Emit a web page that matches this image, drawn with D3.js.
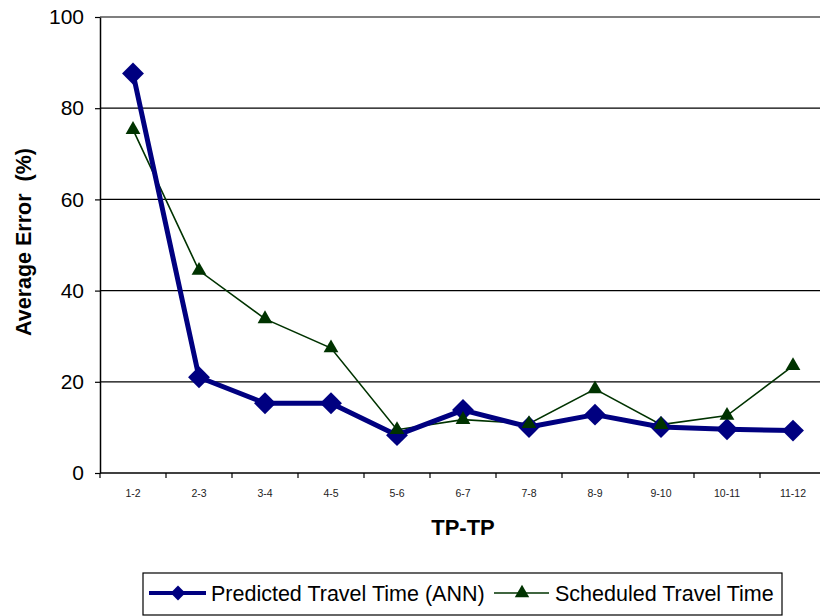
<!DOCTYPE html>
<html>
<head>
<meta charset="utf-8">
<script src="https://cdn.jsdelivr.net/npm/d3@7/dist/d3.min.js"></script>
<style>
  html, body { margin: 0; padding: 0; background: #fff; }
  svg { display: block; font-family: "Liberation Sans", Arial, sans-serif; }
</style>
</head>
<body>
<svg id="chart" width="820" height="616"></svg>
<script>
// Travel-time segments between timing points
const segments = ["1-2", "2-3", "3-4", "4-5", "5-6", "6-7", "7-8", "8-9", "9-10", "10-11", "11-12"];
// Average error (%) per segment
const predictedANN = [87.6, 21.0, 15.3, 15.3, 8.3, 13.8, 10.1, 12.8, 10.1, 9.6, 9.3];
const scheduled    = [75.3, 44.4, 33.8, 27.4, 9.5, 11.7, 10.8, 18.4, 10.6, 12.6, 23.5];
const yTicks = [0, 20, 40, 60, 80, 100];

const svg = d3.select("#chart");
const plotLeft = 100, plotRight = 826, plotTop = 17, plotBottom = 473;

const x = d3.scaleBand().domain(segments).range([plotLeft, plotRight]);
const y = d3.scaleLinear().domain([0, 100]).range([plotBottom, plotTop]);

// Horizontal gridlines
svg.append("g")
  .selectAll("line")
  .data(yTicks.filter(d => d > 0))
  .join("line")
  .attr("x1", plotLeft).attr("x2", plotRight)
  .attr("y1", d => y(d)).attr("y2", d => y(d))
  .attr("stroke", "#000").attr("stroke-width", 1.2);

// Y axis
const yAxis = svg.append("g")
  .attr("transform", `translate(${plotLeft},0)`)
  .call(d3.axisLeft(y).tickValues(yTicks).tickSize(5).tickPadding(11).tickSizeOuter(0));
yAxis.select(".domain").attr("stroke", "#000").attr("stroke-width", 1.5);
yAxis.selectAll(".tick line").attr("stroke", "#000").attr("stroke-width", 1.2);
yAxis.selectAll(".tick text")
  .attr("font-size", 21).attr("fill", "#000")
  .attr("font-family", "Liberation Sans, Arial, sans-serif");

// X axis with ticks on category boundaries
const xAxisG = svg.append("g").attr("transform", `translate(0,${plotBottom})`);
xAxisG.append("line")
  .attr("x1", plotLeft).attr("x2", plotRight)
  .attr("stroke", "#000").attr("stroke-width", 1.5);
xAxisG.selectAll("line.tk")
  .data(segments)
  .join("line").attr("class", "tk")
  .attr("x1", d => x(d)).attr("x2", d => x(d))
  .attr("y1", 0).attr("y2", 5)
  .attr("stroke", "#000").attr("stroke-width", 1.2);
xAxisG.selectAll("text")
  .data(segments)
  .join("text")
  .attr("x", d => x(d) + x.bandwidth() / 2)
  .attr("y", 24)
  .attr("text-anchor", "middle")
  .attr("font-size", 10.5)
  .attr("fill", "#222")
  .text(d => d);

// Axis titles
svg.append("text")
  .attr("x", 463).attr("y", 535)
  .attr("text-anchor", "middle")
  .attr("font-size", 22).attr("font-weight", "bold")
  .text("TP-TP");
svg.append("text")
  .attr("transform", "translate(31,242) rotate(-90)")
  .attr("text-anchor", "middle")
  .attr("font-size", 21.5).attr("font-weight", "bold")
  .style("white-space", "pre")
  .text("Average Error  (%)");

const cx = d => x(d) + x.bandwidth() / 2;
const blue = "#000080", green = "#003300";

const diamond = d3.symbol().type(d3.symbolSquare).size(240);
const triangle = d3.symbol().type(d3.symbolTriangle).size(95);

// Scheduled travel time series
svg.append("path")
  .datum(scheduled)
  .attr("fill", "none").attr("stroke", green).attr("stroke-width", 1.6)
  .attr("d", d3.line().x((d, i) => cx(segments[i])).y(d => y(d)));

// Predicted (ANN) series
svg.append("path")
  .datum(predictedANN)
  .attr("fill", "none").attr("stroke", blue).attr("stroke-width", 5)
  .attr("stroke-linejoin", "round")
  .attr("d", d3.line().x((d, i) => cx(segments[i])).y(d => y(d)));

svg.append("g").selectAll("path")
  .data(predictedANN)
  .join("path")
  .attr("d", diamond)
  .attr("transform", (d, i) => `translate(${cx(segments[i])},${y(d)}) rotate(45)`)
  .attr("fill", blue);

svg.append("g").selectAll("path")
  .data(scheduled)
  .join("path")
  .attr("d", triangle)
  .attr("transform", (d, i) => `translate(${cx(segments[i])},${y(d)})`)
  .attr("fill", green);

// Legend
const lg = svg.append("g");
lg.append("rect")
  .attr("x", 143).attr("y", 573).attr("width", 639).attr("height", 42)
  .attr("fill", "#fff").attr("stroke", "#000").attr("stroke-width", 1.2);
lg.append("line")
  .attr("x1", 149).attr("x2", 206).attr("y1", 593).attr("y2", 593)
  .attr("stroke", blue).attr("stroke-width", 4);
lg.append("path")
  .attr("d", d3.symbol().type(d3.symbolSquare).size(110))
  .attr("transform", "translate(178,593) rotate(45)")
  .attr("fill", blue);
lg.append("text")
  .attr("x", 211).attr("y", 601)
  .attr("font-size", 21.5).attr("fill", "#000")
  .text("Predicted Travel Time (ANN)");
lg.append("line")
  .attr("x1", 494).attr("x2", 549).attr("y1", 593).attr("y2", 593)
  .attr("stroke", green).attr("stroke-width", 1.6);
lg.append("path")
  .attr("d", d3.symbol().type(d3.symbolTriangle).size(90))
  .attr("transform", "translate(522,593)")
  .attr("fill", green);
lg.append("text")
  .attr("x", 555).attr("y", 601)
  .attr("font-size", 21.5).attr("fill", "#000")
  .text("Scheduled Travel Time");
</script>
</body>
</html>
